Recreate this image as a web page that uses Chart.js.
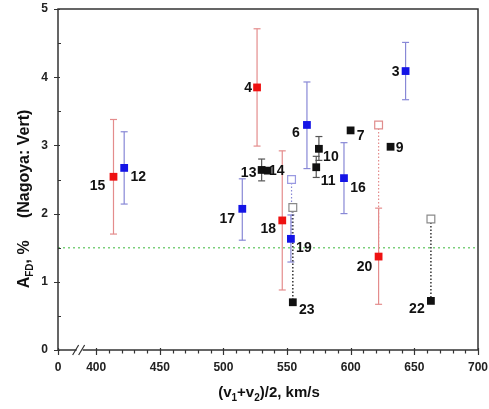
<!DOCTYPE html>
<html>
<head>
<meta charset="utf-8">
<script src="https://cdn.jsdelivr.net/npm/chart.js@4.4.0/dist/chart.umd.min.js"></script>
<style>
  html, body { margin: 0; padding: 0; background: #fff; }
  #wrap { width: 489px; height: 409px; }
</style>
</head>
<body>
<div id="wrap"><canvas id="chart" width="489" height="409"></canvas></div>
<script>
// events (number, mean speed, amplitude, error bar)
const ids = ["15", "12", "4", "17", "13", "14", "18", "19", "23", "6", "10", "11", "7", "16", "9", "3", "20", "22"];
const speeds = [413.6, 422, 526.4, 514.8, 530, 534.8, 546.2, 553, 554.5, 565.6, 575, 572.9, 599.9, 594.7, 631.3, 643.1, 621.9, 663];
const amps = [2.54, 2.67, 3.85, 2.07, 2.64, 2.63, 1.90, 1.63, 0.70, 3.30, 2.95, 2.68, 3.22, 2.52, 2.98, 4.09, 1.37, 0.72];
const errHigh = [3.38, 3.20, 4.71, 2.51, 2.80, null, 2.92, 1.98, null, 3.93, 3.13, 2.84, null, 3.04, null, 4.51, 2.08, null];
const errLow = [1.70, 2.14, 2.99, 1.61, 2.48, null, 0.88, 1.29, null, 2.66, 2.78, 2.53, null, 2.00, null, 3.67, 0.67, null];
const groups = ["red", "blue", "red", "blue", "black", "black", "red", "blue", "black", "blue", "black", "black", "black", "blue", "black", "blue", "red", "black"];

// open squares, linked by a dotted line to a filled point
const openX = [553.5, 554.5, 621.9, 663];
const openY = [2.50, 2.09, 3.30, 1.92];
const openTo = [1.63, 0.70, 1.37, 0.72];
const openGroup = ["blue", "black", "red", "black"];

const threshold = 1.5;

// x axis is broken: 370 stands for 0
const xTicks = [370, 400, 450, 500, 550, 600, 650, 700];
const xTickLabels = ["0", "400", "450", "500", "550", "600", "650", "700"];
const yTicks = [0, 1, 2, 3, 4, 5];

const FONT = "'Liberation Sans', Arial, sans-serif";
const colors = {
  red: { fill: "#ee1111", err: "#e48c8c", open: "#e08c8c" },
  blue: { fill: "#1414e6", err: "#8888d6", open: "#9a9ae2" },
  black: { fill: "#111111", err: "#555555", open: "#8a8a8a" },
};
// label offsets from the marker (px)
const labelPos = {
  "15": [-16, 8], "12": [14, 8], "4": [-9, 0], "17": [-15, 9], "13": [-13, 2],
  "14": [9, 0], "18": [-14, 8], "19": [13, 8], "23": [14, 7], "6": [-11, 7],
  "10": [12, 7], "11": [12, 13], "7": [10, 5], "16": [14, 9], "9": [9, 0],
  "3": [-10, 0], "20": [-14, 10], "22": [-14, 7],
};

const datasets = [];

// filled markers, one dataset per colour
["red", "blue", "black"].forEach((g) => {
  const pts = [];
  ids.forEach((id, i) => {
    if (groups[i] === g) pts.push({ x: speeds[i], y: amps[i] });
  });
  datasets.push({
    type: "scatter",
    data: pts,
    pointStyle: "rect",
    pointRadius: 5.5,
    backgroundColor: colors[g].fill,
    borderColor: colors[g].fill,
    borderWidth: 0,
  });
});

// open squares
datasets.push({
  type: "scatter",
  data: openX.map((x, i) => ({ x: x, y: openY[i] })),
  pointStyle: "rect",
  pointRadius: 5.5,
  backgroundColor: "#ffffff",
  borderColor: openGroup.map((g) => colors[g].open),
  borderWidth: 1.2,
});

// dotted links
openX.forEach((x, i) => {
  datasets.push({
    type: "line",
    data: [{ x: x, y: openY[i] }, { x: x, y: openTo[i] }],
    borderColor: openGroup[i] === "black" ? "#333333" : colors[openGroup[i]].err,
    borderWidth: openGroup[i] === "black" ? 1.5 : 1.2,
    borderDash: [1.5, 2],
    pointRadius: 0,
  });
});

// error bars (caps drawn as 'line' points)
ids.forEach((id, i) => {
  if (errHigh[i] === null) return;
  const c = colors[groups[i]].err;
  datasets.push({
    type: "line",
    data: [{ x: speeds[i], y: errLow[i] }, { x: speeds[i], y: errHigh[i] }],
    borderColor: c,
    borderWidth: 1.2,
    pointStyle: "line",
    pointRadius: 3.5,
    pointBorderColor: c,
    pointBorderWidth: 1.2,
  });
});

// threshold line
datasets.push({
  type: "line",
  data: [{ x: 370, y: threshold }, { x: 700, y: threshold }],
  borderColor: "#7ccf7c",
  borderWidth: 1.5,
  borderDash: [2, 3],
  pointRadius: 0,
});

const decor = {
  id: "decor",
  afterDraw(chart) {
    const { ctx, chartArea: a, scales } = chart;
    const sx = scales.x, sy = scales.y;
    ctx.save();
    // frame
    ctx.strokeStyle = "#333";
    ctx.lineWidth = 1.5;
    ctx.strokeRect(a.left, a.top, a.right - a.left, a.bottom - a.top);

    // ticks
    ctx.lineWidth = 1.2;
    ctx.beginPath();
    xTicks.forEach((v) => {
      const px = Math.round(sx.getPixelForValue(v)) + 0.5;
      ctx.moveTo(px, a.bottom - 2);
      ctx.lineTo(px, a.bottom + 5);
    });
    for (let v = 410; v < 700; v += 10) {
      if (v % 50 === 0) continue;
      const px = Math.round(sx.getPixelForValue(v)) + 0.5;
      ctx.moveTo(px, a.bottom);
      ctx.lineTo(px, a.bottom + 3.5);
    }
    yTicks.forEach((v) => {
      const py = Math.round(sy.getPixelForValue(v)) + 0.5;
      ctx.moveTo(a.left - 4, py);
      ctx.lineTo(a.left + 2, py);
    });
    for (let v = 0.5; v < 5; v += 1) {
      const py = Math.round(sy.getPixelForValue(v)) + 0.5;
      ctx.moveTo(a.left, py);
      ctx.lineTo(a.left + 3, py);
    }
    ctx.stroke();

    // axis break
    const bx = sx.getPixelForValue(387);
    ctx.fillStyle = "#fff";
    ctx.fillRect(bx - 3, a.bottom - 2, 6, 4);
    ctx.beginPath();
    ctx.moveTo(bx - 7, a.bottom + 5);
    ctx.lineTo(bx - 1, a.bottom - 5);
    ctx.moveTo(bx - 1, a.bottom + 5);
    ctx.lineTo(bx + 5, a.bottom - 5);
    ctx.stroke();

    // point labels
    ctx.fillStyle = "#111";
    ctx.font = "bold 14px " + FONT;
    ctx.textAlign = "center";
    ctx.textBaseline = "middle";
    ids.forEach((id, i) => {
      const off = labelPos[id];
      ctx.fillText(id, sx.getPixelForValue(speeds[i]) + off[0], sy.getPixelForValue(amps[i]) + off[1] + 1);
    });

    // axis titles with subscripts
    const drawRich = (parts, cx, cy, size) => {
      const big = "bold " + size + "px " + FONT, small = "bold " + Math.round(size * 0.65) + "px " + FONT;
      let w = 0;
      parts.forEach((p) => { ctx.font = p.sub ? small : big; w += ctx.measureText(p.t).width; });
      let x = cx - w / 2;
      ctx.textAlign = "left";
      ctx.textBaseline = "alphabetic";
      parts.forEach((p) => {
        ctx.font = p.sub ? small : big;
        ctx.fillText(p.t, x, cy + (p.sub ? 4 : 0));
        x += ctx.measureText(p.t).width;
      });
    };
    drawRich([{ t: "(v" }, { t: "1", sub: true }, { t: "+v" }, { t: "2", sub: true }, { t: ")/2, km/s" }], (a.left + a.right) / 2 + 1, 397, 15);
    ctx.save();
    ctx.translate(29, 199);
    ctx.rotate(-Math.PI / 2);
    drawRich([{ t: "A" }, { t: "FD", sub: true }, { t: ", %     (Nagoya: Vert)" }], 0, 0, 16);
    ctx.restore();
    ctx.restore();
  },
};

const noPad = (s) => {
  s.paddingLeft = 0;
  s.paddingRight = 0;
  s.paddingTop = 0;
  s.paddingBottom = 0;
};

new Chart(document.getElementById("chart"), {
  type: "scatter",
  data: { datasets: datasets },
  options: {
    responsive: false,
    animation: false,
    layout: { padding: { left: 0, right: 11, top: 9, bottom: 0 } },
    plugins: { legend: { display: false }, tooltip: { enabled: false } },
    scales: {
      x: {
        type: "linear",
        min: 370,
        max: 700,
        afterBuildTicks: (s) => { s.ticks = xTicks.map((v) => ({ value: v })); },
        afterFit: (s) => { s.height = 59; noPad(s); },
        grid: { display: false, drawTicks: false },
        border: { display: false },
        ticks: {
          padding: 10,
          color: "#222",
          font: { family: FONT, size: 12, weight: "bold" },
          callback: (v) => xTickLabels[xTicks.indexOf(v)],
        },
      },
      y: {
        type: "linear",
        min: 0,
        max: 5,
        afterBuildTicks: (s) => { s.ticks = yTicks.map((v) => ({ value: v })); },
        afterFit: (s) => { s.width = 58; noPad(s); },
        grid: { display: false, drawTicks: false },
        border: { display: false },
        ticks: {
          padding: 10,
          color: "#222",
          font: { family: FONT, size: 12, weight: "bold" },
        },
      },
    },
  },
  plugins: [decor],
});
</script>
</body>
</html>
